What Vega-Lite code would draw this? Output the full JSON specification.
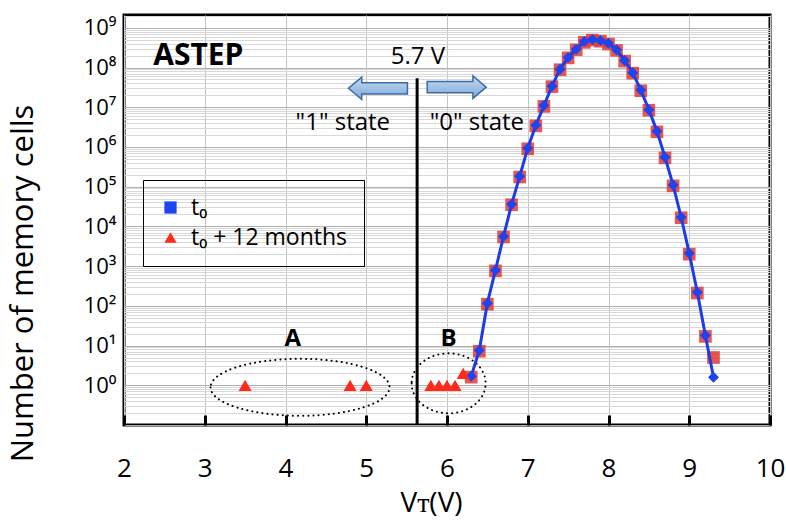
{
  "$schema": "https://vega.github.io/schema/vega-lite/v6.json",
  "width": 646,
  "height": 410,
  "autosize": {"type": "none"},
  "padding": {"left": 124, "top": 15, "right": 16, "bottom": 95},
  "background": "white",
  "config": {
    "font": "Open Sans",
    "view": {"stroke": "black", "strokeWidth": 3},
    "axis": {"labelColor": "black", "titleColor": "black", "titleFontWeight": "normal", "domain": false}
  },
  "datasets": {
    "t0": [
      {"V": 6.3, "cells": 1.7, "series": "t₀"},
      {"V": 6.4, "cells": 7.6, "series": "t₀"},
      {"V": 6.5, "cells": 117, "series": "t₀"},
      {"V": 6.6, "cells": 790, "series": "t₀"},
      {"V": 6.7, "cells": 5600, "series": "t₀"},
      {"V": 6.8, "cells": 36000, "series": "t₀"},
      {"V": 6.9, "cells": 182000, "series": "t₀"},
      {"V": 7.0, "cells": 930000, "series": "t₀"},
      {"V": 7.1, "cells": 3500000, "series": "t₀"},
      {"V": 7.2, "cells": 11000000, "series": "t₀"},
      {"V": 7.3, "cells": 34000000, "series": "t₀"},
      {"V": 7.4, "cells": 91000000, "series": "t₀"},
      {"V": 7.5, "cells": 180000000, "series": "t₀"},
      {"V": 7.6, "cells": 290000000, "series": "t₀"},
      {"V": 7.7, "cells": 450000000, "series": "t₀"},
      {"V": 7.8, "cells": 510000000, "series": "t₀"},
      {"V": 7.9, "cells": 480000000, "series": "t₀"},
      {"V": 8.0, "cells": 410000000, "series": "t₀"},
      {"V": 8.1, "cells": 280000000, "series": "t₀"},
      {"V": 8.2, "cells": 150000000, "series": "t₀"},
      {"V": 8.3, "cells": 74000000, "series": "t₀"},
      {"V": 8.4, "cells": 27000000, "series": "t₀"},
      {"V": 8.5, "cells": 8700000, "series": "t₀"},
      {"V": 8.6, "cells": 2500000, "series": "t₀"},
      {"V": 8.7, "cells": 550000, "series": "t₀"},
      {"V": 8.8, "cells": 110000, "series": "t₀"},
      {"V": 8.9, "cells": 17000, "series": "t₀"},
      {"V": 9.0, "cells": 2100, "series": "t₀"},
      {"V": 9.1, "cells": 220, "series": "t₀"},
      {"V": 9.2, "cells": 18, "series": "t₀"},
      {"V": 9.3, "cells": 1.6, "series": "t₀"}
    ],
    "t12": [
      {"V": 6.3, "cells": 1.6, "series": "t₀ + 12 months"},
      {"V": 6.4, "cells": 7.2, "series": "t₀ + 12 months"},
      {"V": 6.5, "cells": 110, "series": "t₀ + 12 months"},
      {"V": 6.6, "cells": 760, "series": "t₀ + 12 months"},
      {"V": 6.7, "cells": 5400, "series": "t₀ + 12 months"},
      {"V": 6.8, "cells": 35000, "series": "t₀ + 12 months"},
      {"V": 6.9, "cells": 175000, "series": "t₀ + 12 months"},
      {"V": 7.0, "cells": 900000, "series": "t₀ + 12 months"},
      {"V": 7.1, "cells": 3400000, "series": "t₀ + 12 months"},
      {"V": 7.2, "cells": 10500000, "series": "t₀ + 12 months"},
      {"V": 7.3, "cells": 33000000, "series": "t₀ + 12 months"},
      {"V": 7.4, "cells": 88000000, "series": "t₀ + 12 months"},
      {"V": 7.5, "cells": 175000000, "series": "t₀ + 12 months"},
      {"V": 7.6, "cells": 280000000, "series": "t₀ + 12 months"},
      {"V": 7.7, "cells": 430000000, "series": "t₀ + 12 months"},
      {"V": 7.8, "cells": 490000000, "series": "t₀ + 12 months"},
      {"V": 7.9, "cells": 460000000, "series": "t₀ + 12 months"},
      {"V": 8.0, "cells": 390000000, "series": "t₀ + 12 months"},
      {"V": 8.1, "cells": 270000000, "series": "t₀ + 12 months"},
      {"V": 8.2, "cells": 145000000, "series": "t₀ + 12 months"},
      {"V": 8.3, "cells": 72000000, "series": "t₀ + 12 months"},
      {"V": 8.4, "cells": 26000000, "series": "t₀ + 12 months"},
      {"V": 8.5, "cells": 8400000, "series": "t₀ + 12 months"},
      {"V": 8.6, "cells": 2400000, "series": "t₀ + 12 months"},
      {"V": 8.7, "cells": 530000, "series": "t₀ + 12 months"},
      {"V": 8.8, "cells": 105000, "series": "t₀ + 12 months"},
      {"V": 8.9, "cells": 16500, "series": "t₀ + 12 months"},
      {"V": 9.0, "cells": 2000, "series": "t₀ + 12 months"},
      {"V": 9.1, "cells": 210, "series": "t₀ + 12 months"},
      {"V": 9.2, "cells": 17, "series": "t₀ + 12 months"},
      {"V": 9.3, "cells": 5, "series": "t₀ + 12 months"}
    ],
    "tail": [
      {"V": 3.5, "cells": 1, "series": "t₀ + 12 months"},
      {"V": 4.8, "cells": 1, "series": "t₀ + 12 months"},
      {"V": 5.0, "cells": 1, "series": "t₀ + 12 months"},
      {"V": 5.8, "cells": 1, "series": "t₀ + 12 months"},
      {"V": 5.9, "cells": 1, "series": "t₀ + 12 months"},
      {"V": 6.0, "cells": 1, "series": "t₀ + 12 months"},
      {"V": 6.1, "cells": 1, "series": "t₀ + 12 months"},
      {"V": 6.2, "cells": 2, "series": "t₀ + 12 months"}
    ],
    "boundary": [{"V": 5.63, "cells": 0.1, "cells2": 54000000}],
    "boldBig": [{"V": 2.92, "cells": 200000000, "label": "ASTEP"}],
    "notes": [
      {"V": 5.64, "cells": 180000000, "label": "5.7 V"},
      {"V": 4.71, "cells": 4000000, "label": "\"1\" state"},
      {"V": 6.37, "cells": 3900000, "label": "\"0\" state"}
    ],
    "regions": [
      {"V": 4.09, "cells": 14.4, "label": "A"},
      {"V": 6.02, "cells": 14.4, "label": "B"}
    ],
    "ellA": [{"V": 4.18, "cells": 0.89}],
    "ellB": [{"V": 6.02, "cells": 1.12}],
    "arrowL": [{"V": 5.145, "cells": 30000000}],
    "arrowR": [{"V": 6.12, "cells": 32000000}]
  },
  "encoding": {
    "x": {
      "field": "V",
      "type": "quantitative",
      "scale": {"domain": [2, 10], "nice": false, "zero": false},
      "axis": {
        "values": [2, 3, 4, 5, 6, 7, 8, 9, 10],
        "grid": true,
        "gridColor": "#c4c4c4",
        "gridWidth": 1,
        "ticks": true,
        "tickColor": "black",
        "tickWidth": 3,
        "tickSize": -10,
        "labelFontSize": 26,
        "labelPadding": 40,
        "labelFlush": false,
        "title": "Vᴛ(V)",
        "titleFontSize": 28,
        "titleX": 307,
        "titleY": 78,
        "titleAlign": "center",
        "titleBaseline": "middle"
      }
    },
    "y": {
      "field": "cells",
      "type": "quantitative",
      "scale": {"type": "log", "domain": [0.1, 2100000000], "nice": false},
      "axis": {
        "tickCount": 20,
        "grid": true,
        "gridWidth": 1,
        "gridColor": {
          "condition": {"test": "abs(log(datum.value)/LN10 - round(log(datum.value)/LN10)) < 0.001", "value": "#b0b0b0"},
          "value": "#d8d8d8"
        },
        "ticks": false,
        "labelOverlap": false,
        "labelFontSize": 22,
        "labelPadding": 8,
        "labelExpr": "datum.value >= 1 && abs(log(datum.value)/LN10 - round(log(datum.value)/LN10)) < 0.001 ? '10' + ['⁰','¹','²','³','⁴','⁵','⁶','⁷','⁸','⁹'][round(log(datum.value)/LN10)] : ''",
        "title": "Number of memory cells",
        "titleFontSize": 31,
        "titleAngle": -90,
        "titleX": -101,
        "titleY": 268,
        "titleAlign": "center",
        "titleBaseline": "middle"
      }
    }
  },
  "layer": [
    {
      "data": {"name": "boundary"},
      "mark": {"type": "rule", "color": "black", "strokeWidth": 3},
      "encoding": {"y2": {"field": "cells2"}}
    },
    {
      "data": {"name": "ellA"},
      "mark": {"type": "point", "shape": "M-1,0A1,0.318,0,1,0,1,0A1,0.318,0,1,0,-1,0Z", "size": 32041, "filled": false, "stroke": "black", "strokeWidth": 2, "strokeDash": [0.1, 5], "strokeCap": "round", "opacity": 1}
    },
    {
      "data": {"name": "ellB"},
      "mark": {"type": "point", "shape": "M-1,0A1,0.81,0,1,0,1,0A1,0.81,0,1,0,-1,0Z", "size": 5476, "filled": false, "stroke": "black", "strokeWidth": 2, "strokeDash": [0.1, 5], "strokeCap": "round", "opacity": 1}
    },
    {
      "data": {"name": "arrowL"},
      "mark": {"type": "point", "shape": "M1,-0.19L-0.55,-0.19L-0.55,-0.38L-1,0L-0.55,0.38L-0.55,0.19L1,0.19Z", "size": 3481, "filled": true, "opacity": 1,
        "fill": {"gradient": "linear", "x1": 0, "y1": 0, "x2": 0, "y2": 1, "stops": [{"offset": 0, "color": "#c3daf2"}, {"offset": 1, "color": "#7fa9d8"}]},
        "stroke": "#3d6aa0", "strokeWidth": 1.5}
    },
    {
      "data": {"name": "arrowR"},
      "mark": {"type": "point", "shape": "M-1,-0.19L0.55,-0.19L0.55,-0.38L1,0L0.55,0.38L0.55,0.19L-1,0.19Z", "size": 3481, "filled": true, "opacity": 1,
        "fill": {"gradient": "linear", "x1": 0, "y1": 0, "x2": 0, "y2": 1, "stops": [{"offset": 0, "color": "#c3daf2"}, {"offset": 1, "color": "#7fa9d8"}]},
        "stroke": "#3d6aa0", "strokeWidth": 1.5}
    },
    {
      "data": {"name": "t12"},
      "mark": {"type": "point", "shape": "square", "filled": true, "size": 160, "color": "#e23a30", "opacity": 0.85}
    },
    {
      "data": {"name": "t0"},
      "mark": {"type": "line", "color": "#1e3ce6", "strokeWidth": 3}
    },
    {
      "data": {"name": "t0"},
      "mark": {"type": "point", "shape": "diamond", "filled": true, "size": 121, "opacity": 1},
      "encoding": {
        "color": {
          "field": "series", "type": "nominal",
          "scale": {"domain": ["t₀", "t₀ + 12 months"], "range": ["#1e44f0", "#ff2a1a"]},
          "legend": {"title": null, "orient": "none", "legendX": 19, "legendY": 165, "strokeColor": "black", "padding": 16, "labelFontSize": 23, "labelLimit": 400, "labelColor": "black", "symbolSize": 150, "rowPadding": 6, "labelOffset": 9, "symbolStrokeWidth": 0}
        }
      }
    },
    {
      "data": {"name": "tail"},
      "mark": {"type": "point", "filled": true, "size": 169, "opacity": 1},
      "encoding": {
        "color": {
          "field": "series", "type": "nominal",
          "scale": {"domain": ["t₀", "t₀ + 12 months"], "range": ["#1e44f0", "#ff2a1a"]},
          "legend": {"title": null, "orient": "none", "legendX": 19, "legendY": 165, "strokeColor": "black", "padding": 16, "labelFontSize": 23, "labelLimit": 400, "labelColor": "black", "symbolSize": 150, "rowPadding": 6, "labelOffset": 9, "symbolStrokeWidth": 0}
        },
        "shape": {
          "field": "series", "type": "nominal",
          "scale": {"domain": ["t₀", "t₀ + 12 months"], "range": ["square", "triangle-up"]},
          "legend": {"title": null, "orient": "none", "legendX": 19, "legendY": 165, "strokeColor": "black", "padding": 16, "labelFontSize": 23, "labelLimit": 400, "labelColor": "black", "symbolSize": 150, "rowPadding": 6, "labelOffset": 9, "symbolStrokeWidth": 0}
        }
      }
    },
    {
      "data": {"name": "boldBig"},
      "mark": {"type": "text", "fontSize": 30, "fontWeight": "bold", "color": "black", "align": "center", "baseline": "middle"},
      "encoding": {"text": {"field": "label"}}
    },
    {
      "data": {"name": "notes"},
      "mark": {"type": "text", "fontSize": 24, "color": "black", "align": "center", "baseline": "middle"},
      "encoding": {"text": {"field": "label"}}
    },
    {
      "data": {"name": "regions"},
      "mark": {"type": "text", "fontSize": 24, "fontWeight": "bold", "color": "black", "align": "center", "baseline": "middle"},
      "encoding": {"text": {"field": "label"}}
    }
  ]
}
